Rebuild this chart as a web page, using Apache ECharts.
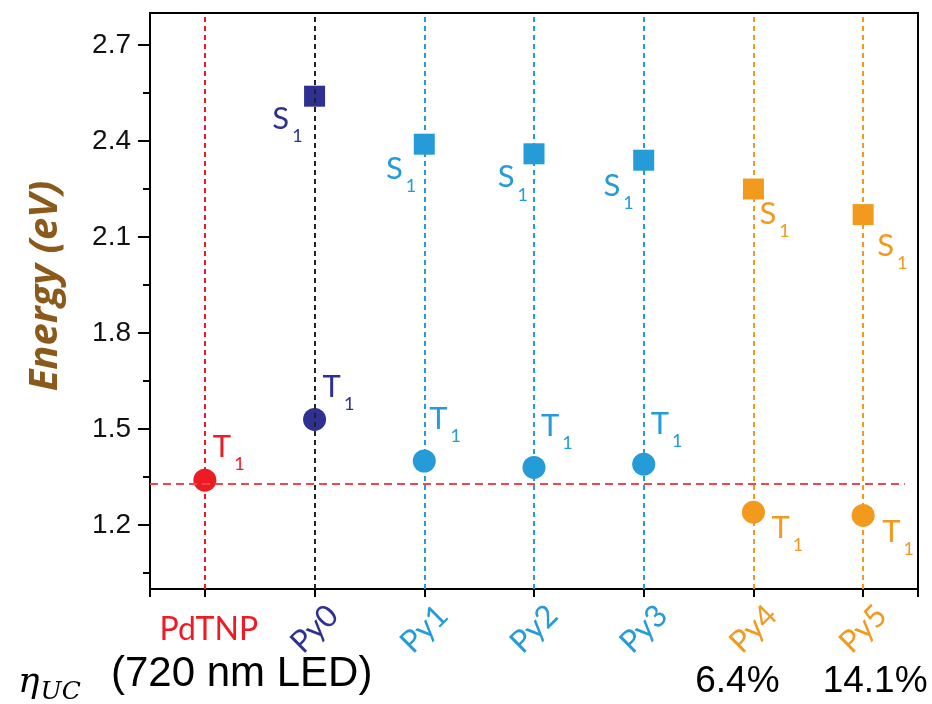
<!DOCTYPE html>
<html>
<head>
<meta charset="utf-8">
<script src="https://cdn.jsdelivr.net/npm/echarts@6/dist/echarts.min.js"></script>
<style>html,body{margin:0;padding:0;background:#fff;}#chart{width:932px;height:704px;}</style>
</head>
<body>
<div id="chart"></div>
<script>
// ---- data ----
const categories = ['PdTNP', 'Py0', 'Py1', 'Py2', 'Py3', 'Py4', 'Py5'];
const s1Energy = [null, 2.54, 2.39, 2.36, 2.34, 2.25, 2.17];
const t1Energy = [1.34, 1.53, 1.40, 1.38, 1.39, 1.24, 1.23];
const efficiency = ['', '', '', '', '', '6.4%', '14.1%'];
const pdtnpT1Level = 1.33;
const yMajorTicks = [1.2, 1.5, 1.8, 2.1, 2.4, 2.7];
const yMinorTicks = [1.05, 1.35, 1.65, 1.95, 2.25, 2.55];

// ---- styles ----
const RED = '#ED1C24', NAVY = '#2E3192', BLUE = '#259BD8', ORANGE = '#F29A1E';
const pointColors = [RED, NAVY, BLUE, BLUE, BLUE, ORANGE, ORANGE];
const vlineColors = [RED, '#222222', BLUE, BLUE, BLUE, ORANGE, ORANGE];
const SQ = 21, CI = 23;
// label offsets of glyph top-left (or top-right) relative to marker centre
const s1Place = [null,
  {dx: -12, dy: 12, align: 'right'}, {dx: -8, dy: 14, align: 'right'},
  {dx: -6, dy: 13, align: 'right'}, {dx: -10, dy: 15, align: 'right'},
  {dx: 6, dy: 14, align: 'left'}, {dx: 14, dy: 21, align: 'left'}];
const t1Place = [
  {dx: 8, dy: -44, align: 'left'}, {dx: 8, dy: -43, align: 'left'},
  {dx: 5, dy: -53, align: 'left'}, {dx: 7, dy: -52, align: 'left'},
  {dx: 7, dy: -51, align: 'left'}, {dx: 18, dy: 5, align: 'left'},
  {dx: 19, dy: 6, align: 'left'}];
const effShift = [0, 0, 0, 0, 0, -16, 12];

const LABEL_FONT = 'Lato';
const subRich = {
  a: {fontFamily: LABEL_FONT, fontSize: 31, lineHeight: 31, verticalAlign: 'top'},
  b: {fontFamily: LABEL_FONT, fontSize: 18, padding: [24, 0, 0, 3], verticalAlign: 'bottom'}
};

function buildPoints(values, places, size, letter) {
  const out = [];
  values.forEach((v, i) => {
    if (v == null) return;
    const p = places[i];
    out.push({
      value: [i + 0.5, v],
      itemStyle: {color: pointColors[i], opacity: 1},
      label: {
        show: true,
        position: [size / 2 + p.dx, size / 2 + p.dy - 5],
        align: p.align,
        verticalAlign: 'top',
        color: pointColors[i],
        formatter: '{a|' + letter + '}{b|1}',
        rich: subRich
      }
    });
  });
  return out;
}

const catX = categories.map((c, i) => i + 0.5);
const tickX = [0].concat(catX, [categories.length]);

const chart = echarts.init(document.getElementById('chart'), null, {renderer: 'canvas'});
chart.setOption({
  animation: false,
  backgroundColor: '#fff',
  grid: {left: 150, right: 14, top: 13, bottom: 115, show: true, borderColor: '#000', borderWidth: 2, backgroundColor: 'transparent'},
  xAxis: [
    {
      type: 'value', min: 0, max: categories.length, position: 'bottom',
      axisLine: {show: true, lineStyle: {color: '#000', width: 2}},
      axisTick: {show: true, customValues: tickX, length: 8, inside: false, lineStyle: {color: '#000', width: 2}},
      splitLine: {show: false},
      axisLabel: {
        customValues: [catX[0]], margin: 25,
        fontFamily: LABEL_FONT, fontSize: 32, padding: [0, 0, 0, 8],
        color: (v) => pointColors[Math.round(parseFloat(v) - 0.5)],
        formatter: (v) => categories[Math.round(v - 0.5)]
      }
    },
    {
      type: 'value', min: 0, max: categories.length, position: 'bottom', offset: 0,
      axisLine: {show: false}, axisTick: {show: false}, splitLine: {show: false},
      axisLabel: {
        customValues: catX.slice(1), rotate: 45, align: 'center', verticalAlign: 'middle', margin: 40,
        fontFamily: LABEL_FONT, fontSize: 31,
        color: (v) => pointColors[Math.round(parseFloat(v) - 0.5)],
        formatter: (v) => categories[Math.round(v - 0.5)]
      }
    },
    {
      type: 'value', min: 0, max: categories.length, position: 'bottom', offset: 0,
      axisLine: {show: false}, axisTick: {show: false}, splitLine: {show: false},
      axisLabel: {
        customValues: catX.filter((x, i) => efficiency[i] !== ''), margin: 74,
        fontFamily: 'Liberation Sans', fontSize: 37, color: '#000',
        formatter: (v) => {
          const i = Math.round(v - 0.5);
          const s = effShift[i];
          return '{e' + (s < 0 ? 'l' : 'r') + '|' + efficiency[i] + '}';
        },
        rich: {
          el: {fontFamily: 'Liberation Sans', fontSize: 37, color: '#000', padding: [0, 32, 0, 0]},
          er: {fontFamily: 'Liberation Sans', fontSize: 37, color: '#000', padding: [0, 0, 0, 24]}
        }
      }
    }
  ],
  yAxis: [
    {
      type: 'value', min: 1.0, max: 2.8, position: 'left',
      name: 'Energy (eV)', nameLocation: 'middle', nameGap: 84,
      nameTextStyle: {fontFamily: 'Open Sans', fontWeight: 'bold', fontStyle: 'italic', fontSize: 40, color: '#8B5A1B', padding: [0, 0, 0, 30]},
      axisLine: {show: true, lineStyle: {color: '#000', width: 2}},
      axisTick: {show: true, customValues: yMajorTicks, length: 12, lineStyle: {color: '#000', width: 2}},
      axisLabel: {customValues: yMajorTicks, margin: 19, fontFamily: 'Liberation Sans', fontSize: 28, color: '#111',
        formatter: (v) => Number(v).toFixed(1)},
      splitLine: {show: false}
    },
    {
      type: 'value', min: 1.0, max: 2.8, position: 'left', offset: 0,
      axisLine: {show: false},
      axisTick: {show: true, customValues: yMinorTicks, length: 7, lineStyle: {color: '#000', width: 2}},
      axisLabel: {show: false}, splitLine: {show: false}
    }
  ],
  graphic: [
    {
      type: 'text', left: 18, top: 658,
      style: {
        text: '{eta|η}{uc|UC}',
        rich: {
          eta: {fontFamily: 'DejaVu Serif', fontStyle: 'italic', fontSize: 36, lineHeight: 40, verticalAlign: 'top', fill: '#000'},
          uc: {fontFamily: 'DejaVu Serif', fontStyle: 'italic', fontSize: 25, lineHeight: 25, padding: [22, 0, 0, 1], verticalAlign: 'bottom', fill: '#000'}
        }
      }
    },
    {
      type: 'text', left: 111, top: 653,
      style: {text: '(720 nm LED)', fontFamily: 'Liberation Sans', fontSize: 42, fill: '#000'}
    }
  ],
  series: [
    {
      name: 'guides', type: 'line', data: [], z: 5, silent: true,
      markLine: {
        silent: true, symbol: ['none', 'none'], label: {show: false},
        lineStyle: {type: [5, 4], width: 2},
        data: catX.map((x, i) => ({xAxis: x, lineStyle: {color: vlineColors[i], type: [5, 4], width: 2}}))
      }
    },
    {
      name: 'T1 ref', type: 'line', data: [], z: 4, silent: true,
      markLine: {
        silent: true, symbol: ['none', 'none'], label: {show: false},
        lineStyle: {type: [8, 5], width: 2, color: '#EF4650'},
        data: [[{coord: [0, pdtnpT1Level]}, {coord: [categories.length - 0.12, pdtnpT1Level]}]]
      }
    },
    {
      name: 'S1', type: 'scatter', symbol: 'rect', symbolSize: SQ, z: 3,
      itemStyle: {opacity: 1},
      data: buildPoints(s1Energy, s1Place, SQ, 'S')
    },
    {
      name: 'T1', type: 'scatter', symbol: 'circle', symbolSize: CI, z: 3,
      itemStyle: {opacity: 1},
      data: buildPoints(t1Energy, t1Place, CI, 'T')
    }
  ]
});
</script>
</body>
</html>
